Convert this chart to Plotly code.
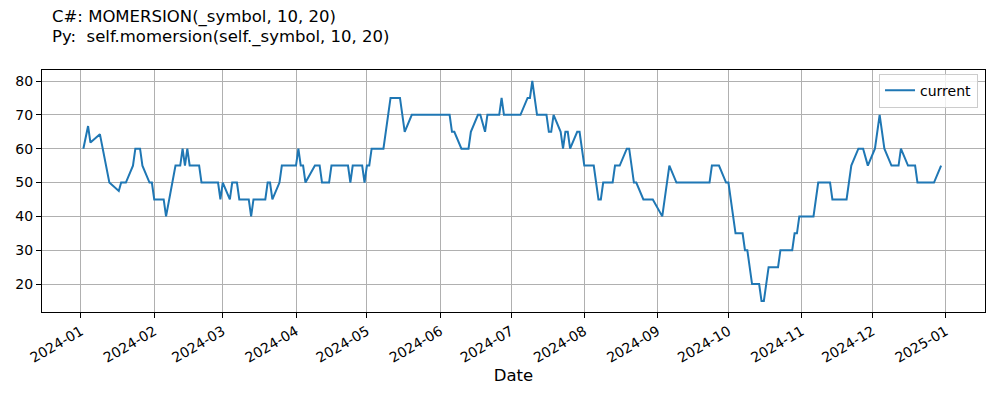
import pandas as pd
import plotly.graph_objects as go

# vertices of the MOMERSION line
dates = [
    "2024-01-02", "2024-01-04", "2024-01-05", "2024-01-09", "2024-01-13", "2024-01-17",
    "2024-01-18", "2024-01-20", "2024-01-23", "2024-01-24", "2024-01-26", "2024-01-27",
    "2024-01-30", "2024-01-31", "2024-02-01", "2024-02-05", "2024-02-06", "2024-02-10",
    "2024-02-12", "2024-02-13", "2024-02-14", "2024-02-15", "2024-02-16", "2024-02-20",
    "2024-02-21", "2024-02-28", "2024-02-29", "2024-03-01", "2024-03-04", "2024-03-05",
    "2024-03-07", "2024-03-08", "2024-03-12", "2024-03-13", "2024-03-14", "2024-03-19",
    "2024-03-20", "2024-03-21", "2024-03-22", "2024-03-25", "2024-03-26", "2024-04-01",
    "2024-04-02", "2024-04-03", "2024-04-04", "2024-04-05", "2024-04-09", "2024-04-11",
    "2024-04-12", "2024-04-15", "2024-04-16", "2024-04-23", "2024-04-24", "2024-04-25",
    "2024-04-29", "2024-04-30", "2024-05-01", "2024-05-02", "2024-05-03", "2024-05-08",
    "2024-05-11", "2024-05-15", "2024-05-17", "2024-05-20", "2024-06-05", "2024-06-06",
    "2024-06-07", "2024-06-10", "2024-06-13", "2024-06-14", "2024-06-17", "2024-06-18",
    "2024-06-20", "2024-06-21", "2024-06-26", "2024-06-27", "2024-06-28", "2024-07-05",
    "2024-07-08", "2024-07-09", "2024-07-10", "2024-07-12", "2024-07-16", "2024-07-17",
    "2024-07-18", "2024-07-19", "2024-07-22", "2024-07-23", "2024-07-24", "2024-07-25",
    "2024-07-26", "2024-07-29", "2024-07-30", "2024-08-01", "2024-08-05", "2024-08-07",
    "2024-08-08", "2024-08-09", "2024-08-13", "2024-08-14", "2024-08-16", "2024-08-19",
    "2024-08-20", "2024-08-22", "2024-08-23", "2024-08-26", "2024-08-30", "2024-09-03",
    "2024-09-06", "2024-09-09", "2024-09-23", "2024-09-24", "2024-09-27", "2024-09-30",
    "2024-10-01", "2024-10-04", "2024-10-07", "2024-10-08", "2024-10-09", "2024-10-11",
    "2024-10-14", "2024-10-15", "2024-10-16", "2024-10-18", "2024-10-22", "2024-10-23",
    "2024-10-28", "2024-10-29", "2024-10-30", "2024-10-31", "2024-11-06", "2024-11-08",
    "2024-11-13", "2024-11-14", "2024-11-20", "2024-11-22", "2024-11-25", "2024-11-27",
    "2024-11-29", "2024-12-02", "2024-12-04", "2024-12-06", "2024-12-09", "2024-12-12",
    "2024-12-13", "2024-12-16", "2024-12-19", "2024-12-20", "2024-12-27", "2024-12-30",
]
current = [
    60, 66.7, 61.8, 64.3, 50, 47.5,
    50, 50, 55, 60, 60, 55,
    50, 50, 45, 45, 40, 55,
    55, 60, 55, 60, 55, 55,
    50, 50, 45, 50, 45, 50,
    50, 45, 45, 40, 45, 45,
    50, 50, 45, 50, 55, 55,
    60, 55, 55, 50, 55, 55,
    50, 50, 55, 55, 50, 55,
    55, 50, 55, 55, 60, 60,
    75, 75, 65, 70, 70, 65,
    65, 60, 60, 65, 70, 70,
    65, 70, 70, 75, 70, 70,
    75, 75, 80, 70, 70, 65,
    65, 70, 65, 60, 65, 65,
    60, 65, 65, 55, 55, 45,
    45, 50, 50, 55, 55, 60,
    60, 50, 50, 45, 45, 40,
    55, 50, 50, 55, 55, 50,
    50, 35, 35, 30, 30, 20,
    20, 15, 15, 25, 25, 30,
    30, 35, 35, 40, 40, 50,
    50, 45, 45, 55, 60, 60,
    55, 60, 70, 60, 55, 55,
    60, 55, 55, 50, 50, 55,
]
month_ticks = pd.date_range("2024-01-01", "2025-01-01", freq="MS")
y_ticks = [20, 30, 40, 50, 60, 70, 80]
title_lines = ["C#: MOMERSION(_symbol, 10, 20)", "Py:\u00a0 self.momersion(self._symbol, 10, 20)"]

df = pd.DataFrame({"Date": pd.to_datetime(dates), "current": current})

fig = go.Figure()
fig.add_trace(go.Scatter(x=df["Date"], y=df["current"], mode="lines", name="current",
                         line=dict(color="#1f77b4", width=2)))

axis_common = dict(showline=True, linecolor="black", linewidth=1, mirror=True,
                   ticks="outside", ticklen=5, tickcolor="black", automargin=False,
                   showgrid=True, gridcolor="#b0b0b0", gridwidth=1, zeroline=False,
                   tickfont=dict(size=14, color="black"))

# two-line title, left aligned above the axes
for i, line in enumerate(title_lines):
    fig.add_annotation(text=line, xref="paper", yref="paper", x=0.0085, y=1.219 - i * 0.0828,
                       xanchor="left", yanchor="middle", showarrow=False,
                       font=dict(size=16.5, color="black"))

fig.update_layout(
    width=1000, height=400,
    paper_bgcolor="white", plot_bgcolor="white",
    font=dict(family="DejaVu Sans", color="black"),
    margin=dict(l=42, r=15, t=70, b=88),
    showlegend=True,
    legend=dict(x=0.9926, y=0.985, xanchor="right", yanchor="top",
                bgcolor="rgba(255,255,255,0.8)", bordercolor="#cccccc", borderwidth=1,
                font=dict(size=14)),
    xaxis=dict(axis_common, range=["2023-12-15 12:00", "2025-01-17 14:00"],
               tickvals=month_ticks, tickformat="%Y-%m", tickangle=-30,
               title=dict(text="Date", font=dict(size=16.5), standoff=4)),
    yaxis=dict(axis_common, range=[11.75, 83.25], tickvals=y_ticks),
)

fig.write_html("out.html", config={"displayModeBar": False},
               post_script="document.body.style.margin = '0';")
